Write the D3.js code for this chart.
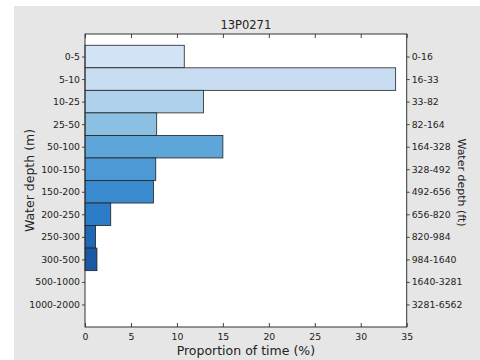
<!DOCTYPE html>
<html><head><meta charset="utf-8">
<script src="https://cdn.jsdelivr.net/npm/d3@7"></script>
<style>body{margin:0;background:#fff}svg{display:block}text{font-family:"DejaVu Sans",sans-serif;fill:#222}</style>
</head><body><svg id="c" width="480" height="360"></svg>
<script>
const depthM = ["0-5","5-10","10-25","25-50","50-100","100-150","150-200","200-250","250-300","300-500","500-1000","1000-2000"];
const depthFt = ["0-16","16-33","33-82","82-164","164-328","328-492","492-656","656-820","820-984","984-1640","1640-3281","3281-6562"];
const values = [10.8, 33.8, 12.9, 7.8, 15.0, 7.7, 7.45, 2.8, 1.15, 1.3, 0, 0];
const colors = ["#d3e4f6","#c8dcf2","#b0d1ec","#8cc0e3","#5ea6da","#4c99d5","#3a8ad0","#2c7cc7","#1f68b8","#1a58a6","#154a96","#0f3c85"];
const xTicks = [0,5,10,15,20,25,30,35];
const title = "13P0271";

const svg = d3.select("#c");
svg.append("rect").attr("x",14).attr("y",6).attr("width",466).attr("height",354).attr("fill","#e6e6e6");
const L=85,R=406.7,T=34,B=327;
const x = d3.scaleLinear().domain([0,35]).range([L,R]);
const y = d3.scaleLinear().domain([-1,12]).range([T,B]);
svg.append("rect").attr("x",L).attr("y",T).attr("width",R-L).attr("height",B-T).attr("fill","#fff");

svg.selectAll("rect.bar").data(values).join("rect").attr("class","bar")
  .attr("x",x(0)).attr("y",(d,i)=>y(i-0.5)).attr("width",d=>x(d)-x(0)).attr("height",y(0.5)-y(-0.5))
  .attr("fill",(d,i)=>colors[i]).attr("stroke",d=>d>0?"#222":"none").attr("stroke-width",0.8);

const yL = d3.axisLeft(y).tickValues(d3.range(12)).tickFormat(i=>depthM[i]).tickSize(3).tickPadding(2);
const yR = d3.axisRight(y).tickValues(d3.range(12)).tickFormat(i=>depthFt[i]).tickSize(3).tickPadding(2);
const xB = d3.axisBottom(x).tickValues(xTicks).tickSize(-4).tickPadding(6);
const xT = d3.axisTop(x).tickValues(xTicks).tickSize(-4).tickFormat("");
function style(g){g.select(".domain").remove();g.selectAll("line").attr("stroke","#444");g.selectAll("text").attr("font-size",9.3).attr("fill","#2a2a2a").style("font-family","DejaVu Sans, sans-serif");}
svg.append("g").attr("transform",`translate(${L},0)`).call(yL).call(style);
svg.append("g").attr("transform",`translate(${R},0)`).call(yR).call(style);
svg.append("g").attr("transform",`translate(0,${B})`).call(xB).call(style);
svg.append("g").attr("transform",`translate(0,${T})`).call(xT).call(style);
svg.append("rect").attr("x",L).attr("y",T).attr("width",R-L).attr("height",B-T).attr("fill","none").attr("stroke","#333").attr("stroke-width",1);

svg.append("text").attr("x",(L+R)/2).attr("y",29).attr("text-anchor","middle").attr("font-size",11.5).text(title);
svg.append("text").attr("x",(L+R)/2).attr("y",355).attr("text-anchor","middle").attr("font-size",12.5).text("Proportion of time (%)");
svg.append("text").attr("transform",`translate(34,${(T+B)/2}) rotate(-90)`).attr("text-anchor","middle").attr("font-size",12.5).text("Water depth (m)");
svg.append("text").attr("transform",`translate(458,${(T+B)/2+2}) rotate(90)`).attr("text-anchor","middle").attr("font-size",11).text("Water depth (ft)");
</script></body></html>
